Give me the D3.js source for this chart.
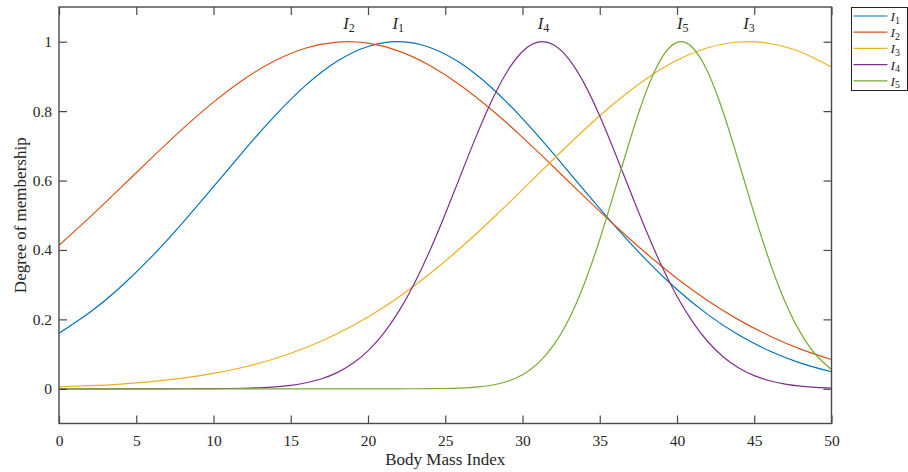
<!DOCTYPE html>
<html>
<head>
<meta charset="utf-8">
<script src="https://cdn.jsdelivr.net/npm/d3@7"></script>
<style>
  html, body { margin: 0; padding: 0; background: #ffffff; }
  svg { display: block; }
</style>
</head>
<body>
<svg id="chart" width="908" height="472"></svg>
<script>
// Sample positions along the BMI axis
const bmiCoarse = [0, 2, 4, 6, 8, 10, 12, 14, 16, 18, 20, 22, 24, 26, 28, 30, 32, 34, 36, 38, 40, 42, 44, 46, 48, 50];
const bmiFine = [0, 1, 2, 3, 4, 5, 6, 7, 8, 9, 10, 11, 12, 13, 14, 15, 16, 17, 18, 19, 20,
  21, 22, 23, 24, 25, 26, 27, 28, 29, 30, 31, 32, 33, 34, 35, 36, 37, 38, 39, 40,
  41, 42, 43, 44, 45, 46, 47, 48, 49, 50];

// Membership degrees of the five fuzzy sets
const mu1 = [0.1600, 0.2203, 0.2941, 0.3807, 0.4781, 0.5822, 0.6877, 0.7879, 0.8755, 0.9436, 0.9863, 1.0000, 0.9833,
  0.9378, 0.8675, 0.7783, 0.6773, 0.5716, 0.4680, 0.3716, 0.2861, 0.2137, 0.1548, 0.1088, 0.0741, 0.0490];
const mu2 = [0.4135, 0.4945, 0.5794, 0.6654, 0.7489, 0.8260, 0.8928, 0.9457, 0.9818, 0.9988, 0.9957, 0.9729, 0.9315,
  0.8741, 0.8038, 0.7244, 0.6398, 0.5537, 0.4696, 0.3904, 0.3180, 0.2539, 0.1986, 0.1523, 0.1144, 0.0843];
const mu3 = [0.0056, 0.0089, 0.0137, 0.0207, 0.0306, 0.0443, 0.0628, 0.0873, 0.1188, 0.1584, 0.2068, 0.2644, 0.3312,
  0.4062, 0.4879, 0.5740, 0.6614, 0.7463, 0.8248, 0.8928, 0.9464, 0.9826, 0.9991, 0.9949, 0.9704, 0.9269];
const mu4 = [0, 0, 0, 0, 0, 0, 0, 0, 0.0001, 0.0002, 0.0004, 0.0008, 0.0016, 0.0030, 0.0056, 0.0100, 0.0173, 0.0288,
  0.0466, 0.0726, 0.1094, 0.1592, 0.2237, 0.3035, 0.3978, 0.5036, 0.6158, 0.7272, 0.8294, 0.9136, 0.9719, 0.9986,
  0.9910, 0.9499, 0.8793, 0.7861, 0.6787, 0.5661, 0.4559, 0.3547, 0.2665, 0.1934, 0.1355, 0.0917, 0.0600, 0.0379,
  0.0231, 0.0136, 0.0077, 0.0043, 0.0023];
const mu5 = [0, 0, 0, 0, 0, 0, 0, 0, 0, 0, 0, 0, 0, 0, 0, 0, 0, 0, 0, 0, 0, 0, 0, 0.0001, 0.0003, 0.0008, 0.0020,
  0.0047, 0.0102, 0.0209, 0.0404, 0.0733, 0.1249, 0.2005, 0.3028, 0.4302, 0.5751, 0.7232, 0.8558, 0.9527, 0.9979,
  0.9834, 0.9118, 0.7954, 0.6528, 0.5041, 0.3662, 0.2503, 0.1610, 0.0974, 0.0555];

const setIndex = ["1", "2", "3", "4", "5"];
const setColors = ["#0072BD", "#D95319", "#EDB120", "#7E2F8E", "#77AC30"];
const peakBmi = [21.9, 18.7, 44.6, 31.3, 40.3];

const xTicks = [0, 5, 10, 15, 20, 25, 30, 35, 40, 45, 50];
const yTicks = [0, 0.2, 0.4, 0.6, 0.8, 1];
const yTickLabels = ["0", "0.2", "0.4", "0.6", "0.8", "1"];

const series = [
  { xs: bmiCoarse, ys: mu1 },
  { xs: bmiCoarse, ys: mu2 },
  { xs: bmiCoarse, ys: mu3 },
  { xs: bmiFine, ys: mu4 },
  { xs: bmiFine, ys: mu5 }
];

const svg = d3.select("#chart");
const plotLeft = 59, plotRight = 831.5, plotTop = 7, plotBottom = 423.5;
const serif = "'Liberation Serif', 'Times New Roman', serif";
const ink = "#262626";

const x = d3.scaleLinear().domain([0, 50]).range([plotLeft, plotRight]);
const y = d3.scaleLinear().domain([-0.1, 1.1]).range([plotBottom, plotTop]);

// Curves
const line = d3.line()
  .x(d => x(d[0]))
  .y(d => y(d[1]))
  .curve(d3.curveNatural);

svg.append("defs").append("clipPath").attr("id", "plotClip")
  .append("rect").attr("x", plotLeft).attr("y", plotTop)
  .attr("width", plotRight - plotLeft).attr("height", plotBottom - plotTop);

const curves = svg.append("g").attr("clip-path", "url(#plotClip)");
series.forEach((s, i) => {
  curves.append("path")
    .datum(s.xs.map((v, j) => [v, s.ys[j]]))
    .attr("d", line)
    .attr("fill", "none")
    .attr("stroke", setColors[i])
    .attr("stroke-width", 1.2);
});

// Axes: inward ticks on all four sides
const tickLen = 8;
function styleAxis(g) {
  g.select(".domain").remove();
  g.selectAll(".tick line").attr("stroke", "#4a4a4a").attr("stroke-width", 1.2);
  g.selectAll(".tick text").attr("fill", ink).attr("font-family", serif).attr("font-size", "15.5px");
}

svg.append("g")
  .attr("transform", `translate(0,${plotBottom})`)
  .call(d3.axisBottom(x).tickValues(xTicks).tickSize(-tickLen).tickPadding(11).tickFormat(d3.format("d")))
  .call(styleAxis);

svg.append("g")
  .attr("transform", `translate(0,${plotTop})`)
  .call(d3.axisTop(x).tickValues(xTicks).tickSize(-tickLen).tickFormat(""))
  .call(styleAxis);

svg.append("g")
  .attr("transform", `translate(${plotLeft},0)`)
  .call(d3.axisLeft(y).tickValues(yTicks).tickSize(-tickLen).tickPadding(7)
    .tickFormat((d, i) => yTickLabels[i]))
  .call(styleAxis);

svg.append("g")
  .attr("transform", `translate(${plotRight},0)`)
  .call(d3.axisRight(y).tickValues(yTicks).tickSize(-tickLen).tickFormat(""))
  .call(styleAxis);

// Axes box
svg.append("rect")
  .attr("x", plotLeft).attr("y", plotTop)
  .attr("width", plotRight - plotLeft).attr("height", plotBottom - plotTop)
  .attr("fill", "none").attr("stroke", "#4a4a4a").attr("stroke-width", 1.4);

// Axis titles
svg.append("text")
  .attr("x", (plotLeft + plotRight) / 2).attr("y", 464.5)
  .attr("text-anchor", "middle")
  .attr("font-family", serif).attr("font-size", "17px").attr("fill", ink)
  .text("Body Mass Index");

svg.append("text")
  .attr("transform", `translate(26,${(plotTop + plotBottom) / 2}) rotate(-90)`)
  .attr("text-anchor", "middle")
  .attr("font-family", serif).attr("font-size", "17px").attr("fill", ink)
  .text("Degree of membership");

// Set names above each peak
function setLabel(sel, idx, mainSize, subSize) {
  sel.append("tspan").attr("font-style", "italic").attr("font-size", mainSize + "px").text("I");
  sel.append("tspan").attr("font-size", subSize + "px").attr("dy", 2.5).text(idx);
}

peakBmi.forEach((p, i) => {
  const t = svg.append("text")
    .attr("x", x(p) + 1).attr("y", 29)
    .attr("text-anchor", "middle")
    .attr("font-family", serif).attr("fill", ink);
  setLabel(t, setIndex[i], 16.5, 12);
});

// Legend
const legend = svg.append("g");
legend.append("rect")
  .attr("x", 851.5).attr("y", 7.5).attr("width", 56).attr("height", 83)
  .attr("fill", "#ffffff").attr("stroke", ink).attr("stroke-width", 1);

setIndex.forEach((idx, i) => {
  const ry = 16 + i * 16.2;
  legend.append("line")
    .attr("x1", 853.5).attr("x2", 887.5)
    .attr("y1", ry).attr("y2", ry)
    .attr("stroke", setColors[i]).attr("stroke-width", 1.2);
  const t = legend.append("text")
    .attr("x", 890.5).attr("y", ry + 5)
    .attr("font-family", serif).attr("fill", ink);
  setLabel(t, idx, 13.5, 10);
});
</script>
</body>
</html>
